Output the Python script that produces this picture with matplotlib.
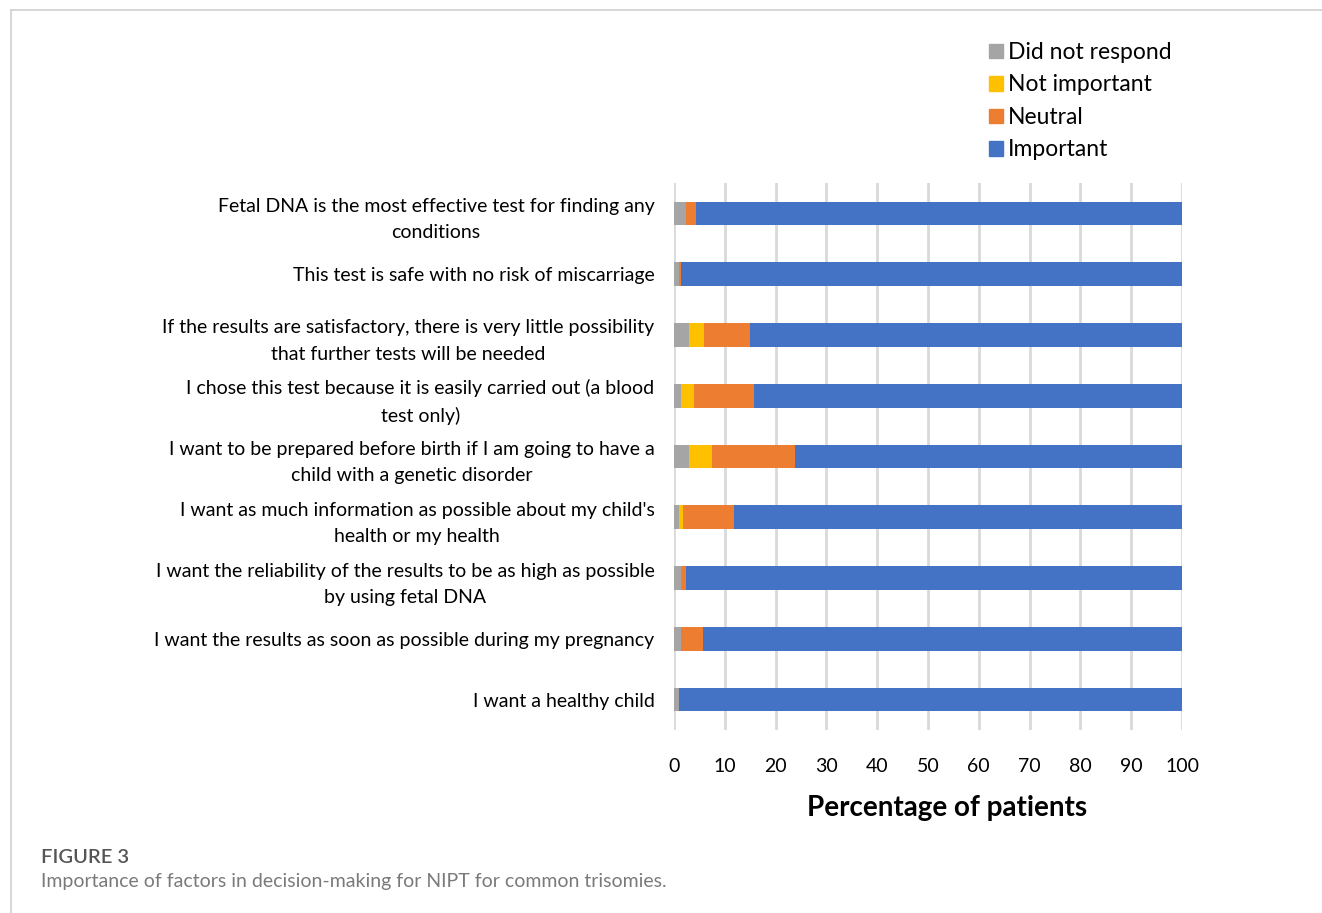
import matplotlib
matplotlib.use("Agg")
import matplotlib.pyplot as plt
import matplotlib.patches as mpatches
from matplotlib.lines import Line2D
import numpy as np

plt.rcParams['font.family'] = ['Lato', 'DejaVu Sans']

# ---------------------------------------------------------
# Survey responses (% of patients), top to bottom
# ---------------------------------------------------------
statements = [
    "Fetal DNA is the most effective test for finding any\nconditions",
    "This test is safe with no risk of miscarriage",
    "If the results are satisfactory, there is very little possibility\nthat further tests will be needed",
    "I chose this test because it is easily carried out (a blood\ntest only)",
    "I want to be prepared before birth if I am going to have a\nchild with a genetic disorder",
    "I want as much information as possible about my child's\nhealth or my health",
    "I want the reliability of the results to be as high as possible\nby using fetal DNA",
    "I want the results as soon as possible during my pregnancy",
    "I want a healthy child",
]
did_not_respond = [2.4, 0.9, 2.9, 1.4, 2.9, 0.9, 1.3, 1.4, 0.9]
not_important   = [0.0, 0.0, 3.0, 2.6, 4.5, 0.9, 0.0, 0.0, 0.0]
neutral         = [2.0, 0.5, 9.0, 11.8, 16.4, 10.1, 1.1, 4.4, 0.0]
important       = [95.6, 98.6, 85.1, 84.2, 76.2, 88.1, 97.6, 94.2, 99.1]

series_names = ["Did not respond", "Not important", "Neutral", "Important"]
series_colors = ["#a5a5a5", "#ffc000", "#ed7d31", "#4472c4"]
xticks = list(range(0, 101, 10))

# ---------------------------------------------------------
# Figure
# ---------------------------------------------------------
fig = plt.figure(figsize=(13.22, 9.13), dpi=100)
ax = fig.add_axes([0.5098, 0.2004, 0.3843, 0.5991])

y = np.arange(len(statements))
left = np.zeros(len(statements))
for vals, name, col in zip([did_not_respond, not_important, neutral, important],
                           series_names, series_colors):
    ax.barh(y, vals, left=left, height=0.39, color=col, label=name, zorder=3)
    left += np.array(vals)

ax.set_ylim(len(statements) - 0.5, -0.5)
ax.set_xlim(0, 100)
ax.set_xticks(xticks)
ax.set_xticklabels([str(t) for t in xticks], fontsize=14)
ax.set_yticks(y)
ax.set_yticklabels(statements, fontsize=14, multialignment="center", linespacing=1.65)
ax.tick_params(axis="both", length=0)
ax.tick_params(axis="y", pad=14)
ax.tick_params(axis="x", pad=20)

ax.grid(axis="x", color="#d9d9d9", linewidth=2, zorder=0)
ax.set_axisbelow(True)
for s in ax.spines.values():
    s.set_visible(False)

ax.set_xlabel("Percentage of patients", fontsize=20, fontweight="bold")
ax.xaxis.set_label_coords(0.537, -0.118)

# legend top right
handles = [mpatches.Patch(color=c, label=n) for n, c in zip(series_names, series_colors)]
fig.legend(handles=handles, loc="upper left", bbox_to_anchor=(0.741, 0.964),
           frameon=False, fontsize=16.5, handlelength=0.6, handleheight=0.6,
           handletextpad=0.25, labelspacing=0.5, borderaxespad=0)

# caption
fig.text(41 / 1322, 1 - 857 / 913, "FIGURE 3", fontsize=14.5, color="#555555",
         va="center", fontweight="semibold")
fig.text(41 / 1322, 1 - 881 / 913,
         "Importance of factors in decision-making for NIPT for common trisomies.",
         fontsize=14, color="#7a7a7a", va="center")

# card border
fig.add_artist(Line2D([11 / 1322, 1], [1 - 10 / 913] * 2, color="#cfcfcf", linewidth=1.2))
fig.add_artist(Line2D([11 / 1322] * 2, [0, 1 - 10 / 913], color="#cfcfcf", linewidth=1.2))

fig.savefig("out.png", dpi=100)
